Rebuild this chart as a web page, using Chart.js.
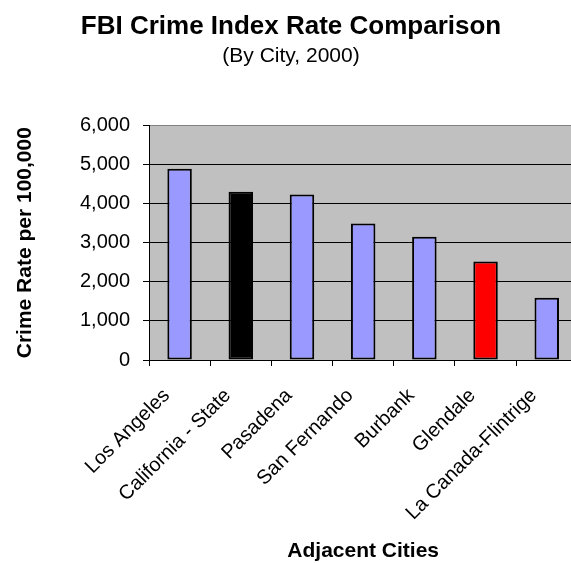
<!DOCTYPE html>
<html>
<head>
<meta charset="utf-8">
<script src="https://cdn.jsdelivr.net/npm/chart.js@4/dist/chart.umd.min.js"></script>
<style>
  html, body { margin: 0; padding: 0; background: #ffffff; overflow: hidden; }
  #wrap { width: 582px; height: 563px; }
</style>
</head>
<body>
<div id="wrap"><canvas id="crime" width="582" height="563"></canvas></div>
<script>
// FBI crime index rate per 100,000 residents, 2000
const cities = ['Los Angeles', 'California - State', 'Pasadena', 'San Fernando', 'Burbank', 'Glendale', 'La Canada-Flintrige'];
const crimeRates = [4890, 4300, 4230, 3490, 3150, 2520, 1590];
const barColors = ['#9999FF', '#000000', '#9999FF', '#9999FF', '#9999FF', '#FF0000', '#9999FF'];
const yTicks = [0, 1000, 2000, 3000, 4000, 5000, 6000];

const FONT = '"Liberation Sans", Arial, Helvetica, sans-serif';

// grey plot-area fill behind the grid and bars
const plotBackground = {
  id: 'plotBackground',
  beforeDraw(chart) {
    const { ctx, chartArea: a } = chart;
    ctx.save();
    ctx.fillStyle = '#C0C0C0';
    ctx.fillRect(a.left, a.top, a.right - a.left, a.bottom - a.top);
    ctx.restore();
  }
};

new Chart(document.getElementById('crime'), {
  type: 'bar',
  data: {
    labels: cities,
    datasets: [{
      data: crimeRates,
      backgroundColor: barColors,
      borderColor: '#000000',
      borderWidth: 2,
      borderSkipped: false,
      barPercentage: 0.4,
      categoryPercentage: 1.0
    }]
  },
  options: {
    responsive: false,
    animation: false,
    devicePixelRatio: 1,
    layout: { padding: { left: 4, right: 4, top: 0, bottom: 0 } },
    plugins: {
      legend: { display: false },
      tooltip: { enabled: false },
      title: {
        display: true,
        text: 'FBI Crime Index Rate Comparison',
        color: '#000000',
        font: { family: FONT, size: 26, weight: 'bold' },
        padding: { top: 11, bottom: 0 }
      },
      subtitle: {
        display: true,
        text: '(By City, 2000)',
        color: '#000000',
        font: { family: FONT, size: 21 },
        padding: { top: 1, bottom: 57 }
      }
    },
    scales: {
      x: {
        afterFit(scale) { scale.height = 203; },
        border: { display: true, color: '#000000', width: 1 },
        grid: {
          offset: true,
          drawOnChartArea: false,
          drawTicks: true,
          tickLength: 6,
          color: '#000000'
        },
        ticks: {
          autoSkip: false,
          minRotation: 45,
          maxRotation: 45,
          labelOffset: -13,
          padding: 18,
          color: '#000000',
          font: { family: FONT, size: 20 }
        },
        title: {
          display: true,
          text: 'Adjacent Cities',
          color: '#000000',
          font: { family: FONT, size: 21, weight: 'bold', lineHeight: 1.1 },
          padding: { top: 0, bottom: 0 }
        }
      },
      y: {
        min: 0,
        max: 6000,
        afterFit(scale) { scale.width = 145; },
        afterBuildTicks(scale) { scale.ticks = yTicks.map(v => ({ value: v })); },
        border: { display: true, color: '#000000', width: 1 },
        grid: {
          color: (c) => (c.tick && c.tick.value === 6000 ? '#808080' : '#000000'),
          tickColor: '#000000',
          lineWidth: 1,
          drawTicks: true,
          tickLength: 6
        },
        ticks: {
          padding: 13,
          color: '#000000',
          font: { family: FONT, size: 20 },
          callback: (v) => Number(v).toLocaleString('en-US')
        },
        title: {
          display: true,
          text: 'Crime Rate per 100,000',
          color: '#000000',
          font: { family: FONT, size: 21, weight: 'bold' },
          padding: { top: 9, bottom: 0 }
        }
      }
    }
  },
  plugins: [plotBackground]
});
</script>
</body>
</html>
